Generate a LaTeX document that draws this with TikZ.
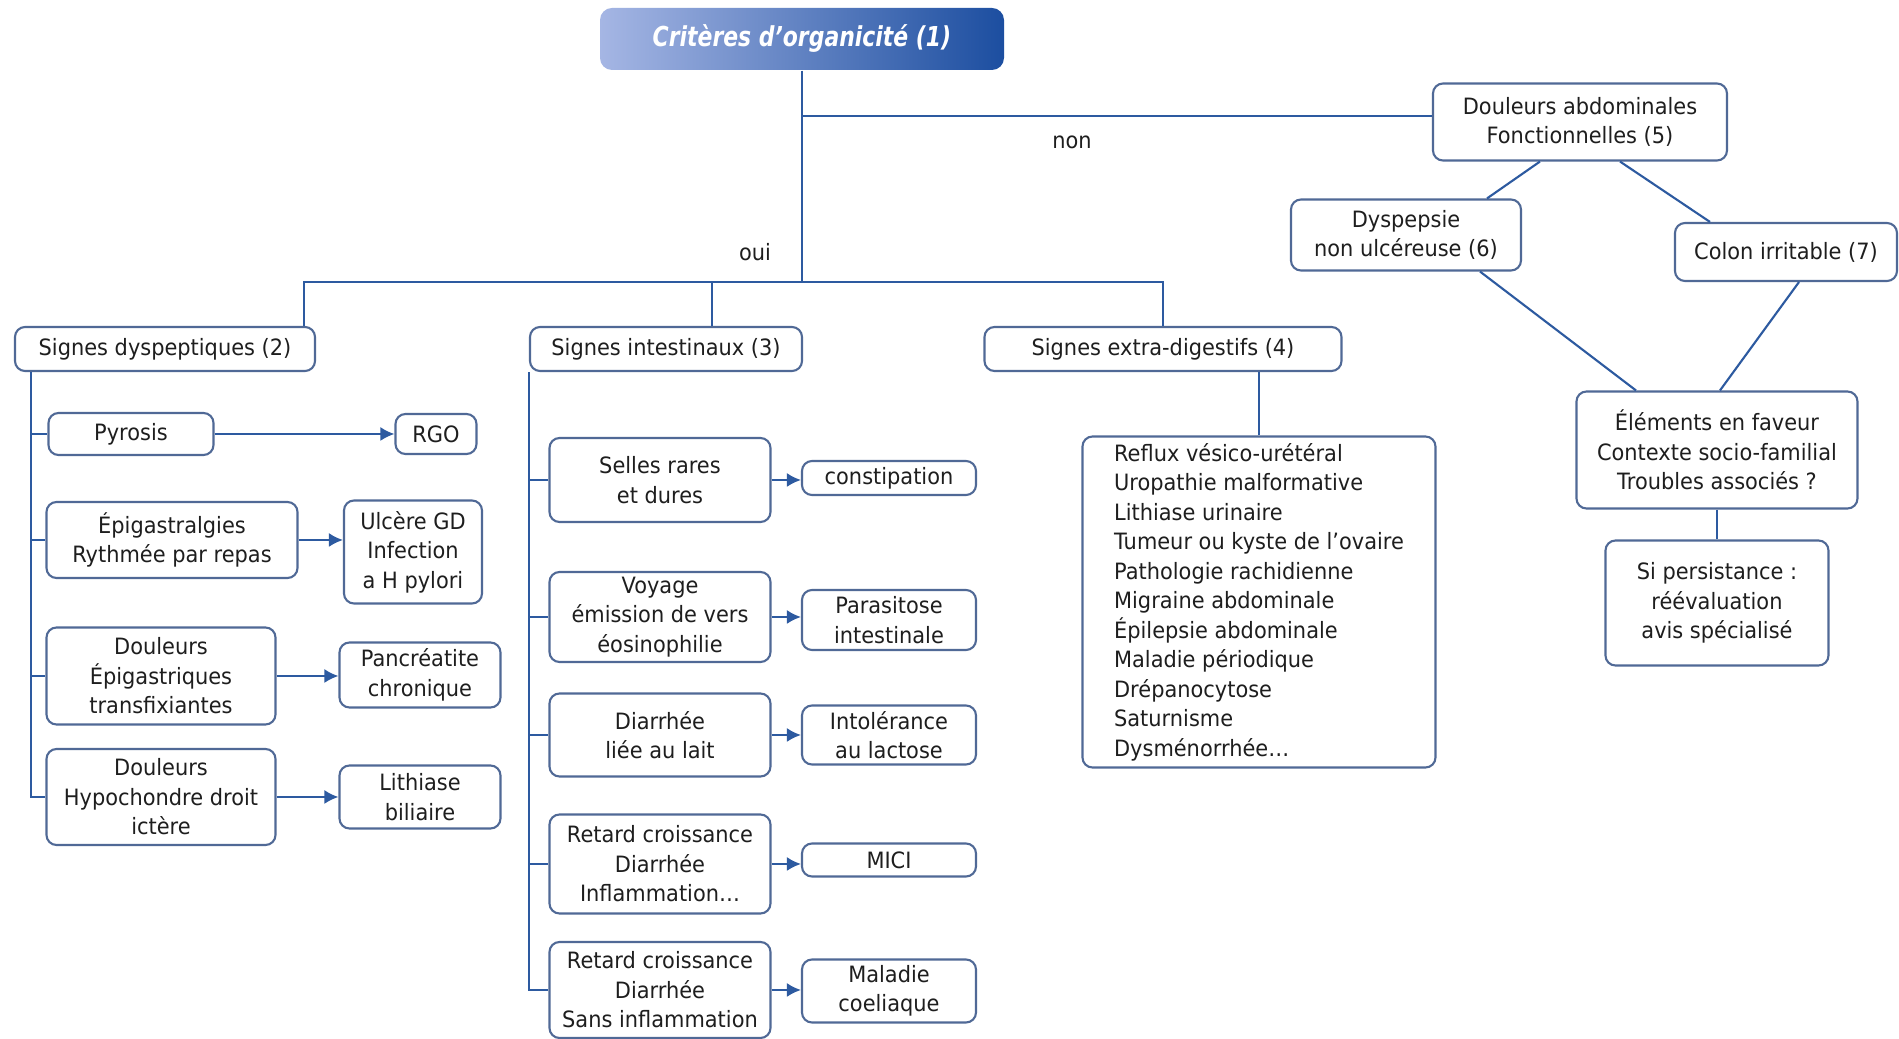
\documentclass[tikz,border=0pt]{standalone}
\usepackage{fontspec}
\setmainfont{DejaVu Sans}[FakeStretch=0.93]
\newfontfamily\titlefont{DejaVu Sans}[FakeStretch=0.8]
\usetikzlibrary{arrows.meta}

\definecolor{linecol}{RGB}{45,90,160}
\definecolor{boxcol}{RGB}{80,105,150}
\definecolor{txtcol}{RGB}{30,30,30}
\definecolor{ttlleft}{RGB}{165,182,228}
\definecolor{ttlright}{RGB}{28,78,160}

\tikzset{
  box/.style={draw=boxcol, line width=0.6pt, rounded corners=1mm, fill=white,
    align=center, inner sep=0pt, text=txtcol,
    font=\fontsize{6.4}{8.4}\selectfont},
  sz/.style 2 args={minimum width=#1mm, minimum height=#2mm},
  head/.style={rounded corners=1.2mm, left color=ttlleft, right color=ttlright,
    text=white, inner sep=0pt, font=\titlefont\bfseries\itshape\fontsize{7.8}{9}\selectfont},
  lbl/.style={text=txtcol, font=\fontsize{6.4}{8.4}\selectfont},
  link/.style={draw=linecol, line width=0.6pt},
  arr/.style={link, -{Latex[length=1.4mm,width=1.4mm]}},
}

\begin{document}
\begin{tikzpicture}[x=0.1mm,y=-0.1mm]
\useasboundingbox[fill=white] (0,0) rectangle (1899,1039);

% top
\node[head, sz={40.4}{6.2}] (title) at (802,39) {Critères d’organicité (1)};
\node[box, sz={29.4}{7.7}] (dabd) at (1580,122) {Douleurs abdominales\\Fonctionnelles (5)};
\node[box, sz={23}{7.1}] (dysp) at (1406,235) {Dyspepsie\\non ulcéreuse (6)};
\node[box, sz={22.2}{5.8}] (colon) at (1786,252) {Colon irritable (7)};
\node[box, sz={28.1}{11.7}] (elem) at (1717,450) {Éléments en faveur\\Contexte socio-familial\\Troubles associés ?};
\node[box, sz={22.3}{12.5}] (persist) at (1717,603) {Si persistance :\\réévaluation\\avis spécialisé};

% the three families
\node[box, sz={30}{4.4}] (sdysp) at (165,349) {Signes dyspeptiques (2)};
\node[box, sz={27.2}{4.4}] (sint) at (666,349) {Signes intestinaux (3)};
\node[box, sz={35.7}{4.4}] (sextra) at (1163,349) {Signes extra-digestifs (4)};

% signes dyspeptiques
\node[box, sz={16.5}{4.2}] (pyrosis) at (131,434) {Pyrosis};
\node[box, sz={8.1}{4}] (rgo) at (436,434) {RGO};
\node[box, sz={25.1}{7.6}] (epig) at (172,540) {Épigastralgies\\Rythmée par repas};
\node[box, sz={13.8}{10.3}] (ulcere) at (413,552) {Ulcère GD\\Infection\\a H pylori};
\node[box, sz={22.9}{9.7}] (doulepig) at (161,676) {Douleurs\\Épigastriques\\transfixiantes};
\node[box, sz={16.1}{6.5}] (pancr) at (420,675) {Pancréatite\\chronique};
\node[box, sz={22.9}{9.6}] (hypo) at (161,797) {Douleurs\\Hypochondre droit\\ictère};
\node[box, sz={16.1}{6.3}] (lithb) at (420,797) {Lithiase\\biliaire};

% signes intestinaux
\node[box, sz={22.1}{8.4}] (selles) at (660,480) {Selles rares\\et dures};
\node[box, sz={17.4}{3.4}] (constip) at (889,478) {constipation};
\node[box, sz={22.1}{9}] (voyage) at (660,617) {Voyage\\émission de vers\\éosinophilie};
\node[box, sz={17.4}{6}] (parasit) at (889,620) {Parasitose\\intestinale};
\node[box, sz={22.1}{8.3}] (lait) at (660,735) {Diarrhée\\liée au lait};
\node[box, sz={17.4}{5.9}] (intol) at (889,735) {Intolérance\\au lactose};
\node[box, sz={22.1}{9.9}] (retard1) at (660,864) {Retard croissance\\Diarrhée\\Inflammation…};
\node[box, sz={17.4}{3.3}] (mici) at (889,860) {MICI};
\node[box, sz={22.1}{9.6}] (retard2) at (660,990) {Retard croissance\\Diarrhée\\Sans inflammation};
\node[box, sz={17.4}{6.3}] (coel) at (889,991) {Maladie\\coeliaque};

% signes extra-digestifs
\node[box, sz={35.3}{33.1}, align=left] (list) at (1259,602) {Reflux vésico-urétéral\\Uropathie malformative\\Lithiase urinaire\\Tumeur ou kyste de l’ovaire\\Pathologie rachidienne\\Migraine abdominale\\Épilepsie abdominale\\Maladie périodique\\Drépanocytose\\Saturnisme\\Dysménorrhée…};

\node[lbl] (non) at (1072,142) {non};
\node[lbl] (oui) at (755,252) {oui};

% branches
\coordinate (bar) at (802,282);
\draw[link] (title.south) -- (bar);
\draw[link] ([xshift=-1.2mm]sdysp.north east) |- (bar) -| (sextra.north);
\draw[link] (sint.north) ++(46,0) coordinate (sdrop) -- (sdrop |- bar);
\draw[link] ([yshift=0.6mm]dabd.west) coordinate (dw) (bar |- dw) -- (dw);

\draw[link] ([xshift=-4mm]dabd.south) -- ([xshift=8.1mm]dysp.north);
\draw[link] ([xshift=4mm]dabd.south) -- ([xshift=-7.6mm]colon.north);
\draw[link] ([xshift=7.4mm]dysp.south) -- ([xshift=-8.1mm]elem.north);
\draw[link] ([xshift=1.3mm]colon.south) -- ([xshift=0.3mm]elem.north);
\draw[link] (elem.south) -- (persist.north);

\draw[link] ([xshift=1.7mm]sdysp.south west) coordinate (lbus) |- (hypo.west);
\foreach \n in {pyrosis,epig,doulepig}
  \draw[link] (lbus |- \n.west) -- (\n.west);

\draw[link] (sint.south west) |- (retard2.west);
\foreach \n in {selles,voyage,lait,retard1}
  \draw[link] (sint.south west |- \n.west) -- (\n.west);

\draw[link] (list.north) -- (list.north |- sextra.south);

\foreach \a/\b in {pyrosis/rgo,epig/ulcere,doulepig/pancr,hypo/lithb,selles/constip,voyage/parasit,lait/intol,retard1/mici,retard2/coel}
  \draw[arr] (\a.east) -- (\a.east -| \b.west);
\end{tikzpicture}
\end{document}
